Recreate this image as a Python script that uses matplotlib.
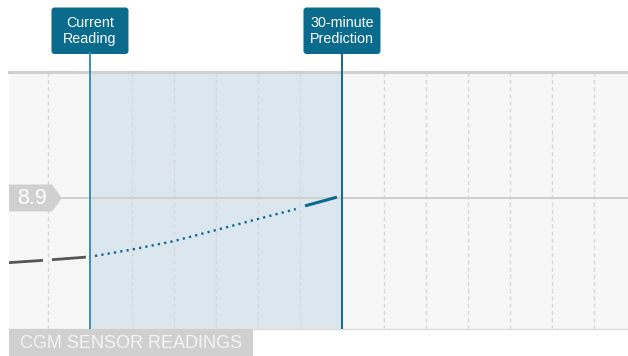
import matplotlib
matplotlib.use("Agg")
import matplotlib.pyplot as plt
import matplotlib.transforms as mtrans
from matplotlib.patches import FancyBboxPatch, Polygon, Rectangle
from matplotlib.lines import Line2D

plt.rcParams['font.family'] = ['Liberation Sans', 'DejaVu Sans']
plt.rcParams['lines.scale_dashes'] = False

# minutes relative to the current reading, glucose in mmol/L
history_t = [-9.64, -5.0, 0.0]
history_v = [6.68, 6.77, 6.88]

predicted_t = [0.6, 5.0, 10.0, 15.0, 20.0, 24.5]
predicted_v = [6.91, 7.13, 7.42, 7.80, 8.18, 8.52]

final_t = [25.6, 29.4]
final_v = [8.63, 8.93]

current_t = 0
prediction_t = 30
threshold = 8.9
grid_t = [-5, 5, 10, 15, 20, 25, 35, 40, 45, 50, 55, 60]

teal = '#0b6b8d'
gray_tag = '#d0d0d0'

fig = plt.figure(figsize=(6.28, 3.56), dpi=100)
ax = fig.add_axes([9 / 628, 27 / 356, 619 / 628, 257 / 356])
ax.set_xlim(-9.64, 64.05)
ax.set_ylim(4.4, 13.23)
ax.set_facecolor('#f7f7f7')
for s in ax.spines.values():
    s.set_visible(False)
ax.set_xticks([])
ax.set_yticks([])

for t in grid_t:
    ax.axvline(t, color='#d8d8d8', lw=1, ls=(0, (3, 2.2)), zorder=1)

ax.axvspan(current_t, prediction_t, color='#dce6ef', zorder=0.5)
ax.axhline(threshold, color='#d0d0d0', lw=1.5, zorder=1.5)
ax.axhline(ax.get_ylim()[1], color='#d0d0d0', lw=2.2, zorder=1.5, clip_on=False)
ax.axhline(ax.get_ylim()[0], color='#dcdcdc', lw=1, zorder=1.5, clip_on=False)

ax.plot(history_t, history_v, color='#555555', lw=2, ls=(0, (24.5, 6.5)), zorder=3)
ax.plot(predicted_t, predicted_v, color=teal, lw=1.7, ls=(0, (1.6, 3.0)), zorder=3)
ax.plot(final_t, final_v, color=teal, lw=2.2, solid_capstyle='butt', zorder=3)

ax.axvline(current_t, color='#3d8eb0', lw=1.4, zorder=2)
ax.axvline(prediction_t, color=teal, lw=1.4, zorder=2)

top_blend = mtrans.blended_transform_factory(ax.transData, ax.transAxes)
for t, label, lc in [(current_t, 'Current\nReading', '#3d8eb0'),
                     (prediction_t, '30-minute\nPrediction', teal)]:
    tr = fig.dpi_scale_trans + mtrans.ScaledTranslation(t, 1.0, top_blend)
    fig.add_artist(Line2D([0, 0], [0, 0.19], color=lc, lw=1.4, transform=tr))
    fig.add_artist(FancyBboxPatch((-0.385, 0.18), 0.77, 0.465,
                                  boxstyle='round,pad=0,rounding_size=0.03',
                                  fc=teal, ec='none', transform=tr))
    fig.text(0, 0.41, label, transform=tr, ha='center', va='center',
             color='white', fontsize=10.3, linespacing=1.12)

# threshold tag on the left
left_blend = mtrans.blended_transform_factory(ax.transAxes, ax.transData)
tr = fig.dpi_scale_trans + mtrans.ScaledTranslation(0, threshold, left_blend)
fig.add_artist(Polygon([(0, -0.135), (0.43, -0.135), (0.53, 0), (0.43, 0.135), (0, 0.135)],
                       closed=True, fc=gray_tag, ec='none', transform=tr))
fig.text(0.23, 0.0, f'{threshold}', transform=tr, ha='center', va='center',
         color='white', fontsize=15.5)

# bottom caption band
tr = fig.dpi_scale_trans + mtrans.ScaledTranslation(0, 0, ax.transAxes)
fig.add_artist(Rectangle((0, -0.27), 2.44, 0.27, fc=gray_tag, ec='none', transform=tr))
fig.text(1.22, -0.14, 'CGM SENSOR READINGS', transform=tr, ha='center', va='center',
         color='#f4f4f4', fontsize=13)

fig.savefig('out.png', dpi=100)
